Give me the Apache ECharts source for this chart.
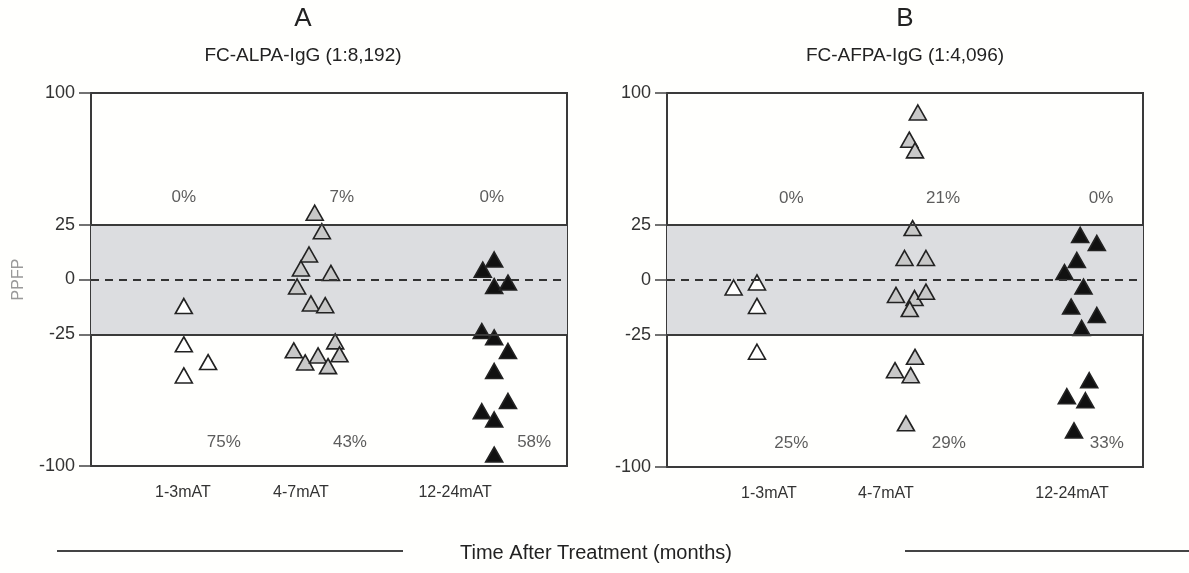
<!DOCTYPE html>
<html>
<head>
<meta charset="utf-8">
<script src="https://cdn.jsdelivr.net/npm/echarts@6/dist/echarts.min.js"></script>
<style>
html,body{margin:0;padding:0;background:#fffffd;}
#c{width:1189px;height:573px;}
</style>
</head>
<body>
<div id="c"></div>
<script>
// ---------- DATA ----------
const categories = ['1-3mAT', '4-7mAT', '12-24mAT'];
const yTickValues = [-100, -25, 0, 25, 100];
const panelTitles = ['A', 'B'];
const panelSubtitles = ['FC-ALPA-IgG (1:8,192)', 'FC-AFPA-IgG (1:4,096)'];
const xAxisTitle = 'Time After Treatment (months)';
const yAxisName = 'PPFP';

// [horizontal jitter position (0-100 across panel), PPFP value]
const A_1_3 = [[19.5, -12.1], [19.5, -30.7], [24.6, -40.8], [19.5, -48.4]];
const A_4_7 = [[47.0, 31.8], [48.5, 22.0], [45.8, 11.4], [44.1, 5.0], [50.4, 3.0], [43.3, -3.2],
  [46.2, -10.9], [49.2, -11.7], [51.3, -29.0], [42.6, -34.1], [45.0, -41.0], [47.7, -37.0],
  [49.8, -43.1], [52.2, -36.4]];
const A_12_24 = [[84.7, 9.1], [82.3, 4.5], [84.7, -3.0], [87.6, -1.4], [82.1, -23.5], [84.7, -26.7],
  [87.6, -34.5], [84.7, -45.9], [87.6, -63.0], [82.1, -68.8], [84.7, -73.5], [84.7, -93.5]];

const B_1_3 = [[14.0, -3.4], [18.9, -1.1], [18.9, -11.8], [18.9, -34.5]];
const B_4_7 = [[52.7, 88.9], [50.9, 73.5], [52.1, 67.4], [51.6, 23.6], [49.9, 10.0], [54.4, 10.0],
  [48.1, -6.8], [52.0, -8.2], [54.4, -5.3], [51.0, -13.2], [52.1, -37.4], [47.9, -45.0],
  [51.2, -47.8], [50.2, -75.2]];
const B_12_24 = [[86.8, 20.5], [90.3, 16.8], [86.1, 9.1], [83.5, 3.6], [87.5, -3.0], [84.9, -12.1],
  [90.3, -15.9], [87.1, -21.8], [88.7, -50.7], [84.0, -59.8], [87.9, -62.1], [85.5, -79.2]];

const A_pctAbove = ['0%', '7%', '0%'];
const A_pctBelow = ['75%', '43%', '58%'];
const B_pctAbove = ['0%', '21%', '0%'];
const B_pctBelow = ['25%', '29%', '33%'];

const bandLimit = 25;

// ---------- LAYOUT (positions, not data) ----------
const catPos = [[19.3, 44.1, 76.5], [21.4, 46.0, 85.1]];
const pctAbovePos = [[[19.5, 40.4], [52.7, 40.4], [84.2, 40.4]], [[26.1, 40.0], [58.0, 40.0], [91.2, 40.0]]];
const pctBelowPos = [[[27.9, -86.6], [54.4, -86.6], [93.1, -86.6]], [[26.1, -86.6], [59.2, -86.6], [92.4, -86.6]]];
const grids = [
  {left: 91, top: 93, width: 476, height: 373},
  {left: 667, top: 93, width: 476, height: 374}
];
const titleX = [303, 905];

// piecewise axis transform: inner band (|v|<=25) stretched relative to outer part
const OUTER = 0.8;
function g(v) { const a = Math.abs(v); return a <= 25 ? v : Math.sign(v) * (25 + (a - 25) * OUTER); }
function gInv(t) { const a = Math.abs(t); return a <= 25 ? t : Math.sign(t) * (25 + (a - 25) / OUTER); }
function tr(arr) { return arr.map(p => [p[0], g(p[1])]); }

const FONT = 'Liberation Sans, Arial, sans-serif';
const DARK = '#333';

const panels = [
  {s13: A_1_3, s47: A_4_7, s1224: A_12_24, above: A_pctAbove, below: A_pctBelow},
  {s13: B_1_3, s47: B_4_7, s1224: B_12_24, above: B_pctAbove, below: B_pctBelow}
];

const option = {
  backgroundColor: '#fffffd',
  animation: false,
  grid: grids.map(gr => Object.assign({show: true, borderColor: '#3a3a3a', borderWidth: 2, backgroundColor: 'transparent'}, gr)),
  xAxis: panels.map((p, i) => ({
    type: 'value', gridIndex: i, min: 0, max: 100,
    axisLine: {show: false}, axisTick: {show: false}, splitLine: {show: false},
    axisLabel: {
      customValues: catPos[i], margin: 19,
      fontFamily: FONT, fontSize: 16, color: DARK,
      formatter: v => { const k = catPos[i].findIndex(c => Math.abs(c - v) < 1e-6); return k >= 0 ? categories[k] : ''; }
    }
  })),
  yAxis: panels.map((p, i) => ({
    type: 'value', gridIndex: i, min: g(-100), max: g(100),
    name: i === 0 ? yAxisName : '', nameLocation: 'middle', nameRotate: 90, nameGap: 64,
    nameTextStyle: {color: '#999', fontFamily: FONT, fontSize: 16},
    axisLine: {show: false}, splitLine: {show: false},
    axisTick: {show: true, customValues: yTickValues.map(g), length: 12, lineStyle: {color: '#444', width: 1.5}},
    axisLabel: {
      customValues: yTickValues.map(g), margin: 16,
      fontFamily: FONT, fontSize: 18, color: DARK,
      formatter: v => String(Math.round(gInv(v)))
    }
  })),
  graphic: [],
  series: []
};

panels.forEach((p, i) => {
  const labelData = p.above.map((t, k) => ({name: t, value: [pctAbovePos[i][k][0], g(pctAbovePos[i][k][1])]}))
    .concat(p.below.map((t, k) => ({name: t, value: [pctBelowPos[i][k][0], g(pctBelowPos[i][k][1])]})));
  option.series.push({
    type: 'scatter', xAxisIndex: i, yAxisIndex: i, z: 1, silent: true,
    symbolSize: 0, data: labelData,
    label: {show: true, position: 'inside', formatter: d => d.name, fontFamily: FONT, fontSize: 17, color: DARK},
    markArea: {silent: true, itemStyle: {color: '#dcdde0'}, data: [[{yAxis: g(-bandLimit)}, {yAxis: g(bandLimit)}]]},
    markLine: {
      silent: true, symbol: 'none', label: {show: false},
      data: [
        {yAxis: g(bandLimit), lineStyle: {type: 'solid', color: '#3a3a3a', width: 2}},
        {yAxis: g(-bandLimit), lineStyle: {type: 'solid', color: '#3a3a3a', width: 2}},
        {yAxis: 0, lineStyle: {type: [8, 6], color: '#333', width: 2}}
      ]
    }
  });
  const mk = (data, fill) => ({
    type: 'scatter', xAxisIndex: i, yAxisIndex: i, z: 3,
    symbol: 'triangle', symbolSize: [17, 15],
    itemStyle: {color: fill, borderColor: '#222', borderWidth: 1.6, opacity: 1},
    data: tr(data)
  });
  option.series.push(mk(p.s13, '#ffffff'));
  option.series.push(mk(p.s47, '#c8c8c8'));
  option.series.push(mk(p.s1224, '#111111'));

  option.graphic.push({type: 'text', x: titleX[i], y: 19, style: {text: panelTitles[i], textAlign: 'center', textVerticalAlign: 'middle', font: '26px ' + FONT, fill: '#222'}});
  option.graphic.push({type: 'text', x: titleX[i], y: 56, style: {text: panelSubtitles[i], textAlign: 'center', textVerticalAlign: 'middle', font: '19px ' + FONT, fill: '#222'}});
});

option.graphic.push({type: 'line', shape: {x1: 57, y1: 551, x2: 403, y2: 551}, style: {stroke: '#444', lineWidth: 2}});
option.graphic.push({type: 'line', shape: {x1: 905, y1: 551, x2: 1189, y2: 551}, style: {stroke: '#444', lineWidth: 2}});
option.graphic.push({type: 'text', x: 596, y: 553, style: {text: xAxisTitle, textAlign: 'center', textVerticalAlign: 'middle', font: '20px ' + FONT, fill: '#222'}});

const chart = echarts.init(document.getElementById('c'), null, {renderer: 'canvas'});
chart.setOption(option);
</script>
</body>
</html>
